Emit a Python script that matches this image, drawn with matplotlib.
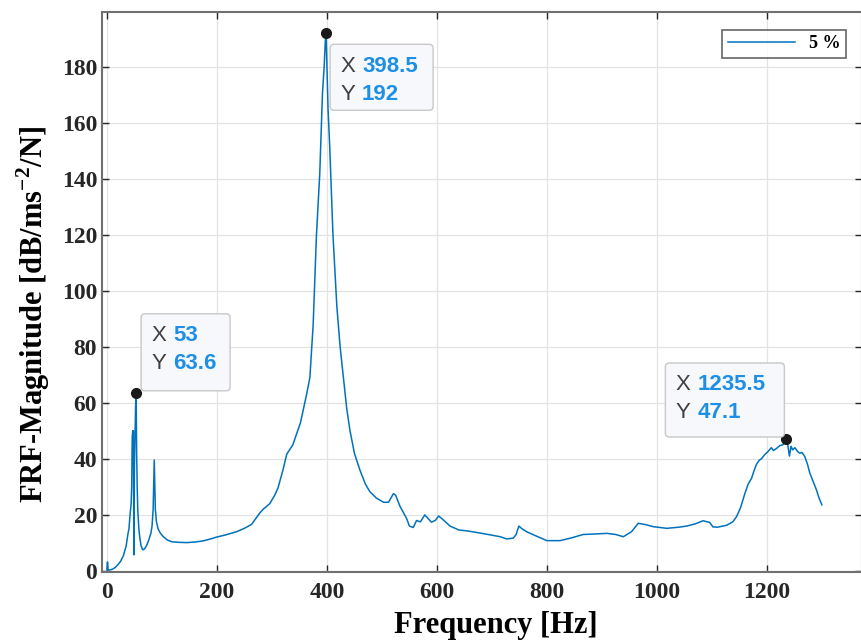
import numpy as np
import matplotlib
matplotlib.use("Agg")
import matplotlib.pyplot as plt
from matplotlib.patches import FancyBboxPatch

plt.rcParams['font.family'] = ['Liberation Serif', 'DejaVu Serif']
plt.rcParams['mathtext.fontset'] = 'custom'
plt.rcParams['mathtext.bf'] = 'Liberation Serif:bold'
plt.rcParams['mathtext.rm'] = 'Liberation Serif'

# FRF magnitude of the 5 % case
freq = [0, 1, 2, 5, 10, 15, 20, 25, 30, 35, 38, 40, 42, 44, 45, 46, 47, 47.5, 48, 49,
        50, 51, 52, 53, 54, 55, 56, 58, 60, 62, 65, 68, 72, 76, 80, 82, 84, 85, 86, 87,
        88, 90, 93, 97, 102, 110, 118, 130, 145, 160, 175, 190, 200, 215, 236, 250, 263, 270, 278, 284,
        290, 296, 305, 311, 320, 327, 333, 338, 345, 352, 357, 363, 369, 375, 381, 387, 392, 395, 397, 398.5,
        400, 402, 405, 411, 418, 424, 430, 436, 442, 450, 460, 470, 478, 490, 503, 512, 521, 525, 533, 540,
        545, 550, 557, 563, 570, 578, 585, 590, 597, 603, 610, 624, 640, 654, 670, 696, 715, 727, 739, 744,
        749, 755, 763, 780, 800, 824, 845, 866, 890, 909, 925, 939, 954, 960, 966, 980, 993, 1018, 1040, 1054,
        1070, 1084, 1096, 1102, 1110, 1127, 1138, 1145, 1152, 1160, 1166, 1172, 1178, 1181, 1186, 1190, 1196, 1202, 1208, 1212,
        1218, 1224, 1229, 1233, 1235.5, 1238, 1241, 1244, 1247, 1251, 1256, 1260, 1264, 1269, 1274, 1278, 1284, 1290, 1295, 1300]
mag = [0.5, 3.2, 0.4, 0.3, 0.6, 1.2, 2.2, 3.5, 5.5, 9, 13, 15, 20, 24, 30, 48, 50, 44, 50, 5.7,
       38, 48, 58, 63.6, 42, 30, 22, 15, 11.5, 9, 7.5, 7.8, 9, 11, 13.5, 16, 22, 30, 39.6, 30,
       22, 17.5, 15, 13.5, 12.3, 11, 10.4, 10.2, 10.1, 10.3, 10.7, 11.5, 12.1, 12.8, 14, 15.2, 16.6, 18.5, 20.7, 22,
       23, 24, 27, 29.6, 36, 41.7, 43.5, 45, 49, 53, 57.6, 63, 69, 88, 120, 142, 171, 180, 189, 192,
       180, 165, 152, 120, 94.6, 80, 69, 58, 50, 42, 36, 31, 28.3, 26, 24.5, 24.5, 27.6, 27, 23, 20.5,
       18.7, 16, 15.5, 18, 17.5, 20, 18.5, 17.4, 18, 19.6, 18.5, 16, 14.6, 14.3, 13.8, 12.9, 12.2, 11.4, 11.7, 13,
       16, 15, 14, 12.5, 10.8, 10.8, 11.8, 13, 13.2, 13.4, 13, 12.2, 14, 15.5, 17, 16.5, 15.8, 15.2, 15.6, 16,
       16.8, 17.9, 17.3, 15.7, 15.6, 16.3, 17.5, 19.4, 22.5, 27.6, 31, 33, 36.5, 38, 39.5, 40, 41.5, 42.6, 44, 43,
       43.8, 44.8, 45, 46, 47.1, 45, 41, 44.5, 43.2, 44, 42.6, 42, 42.3, 40.8, 38, 35, 32, 29, 26, 23.6]

# data tips: (x, y, box offset from marker in px: dx, dy, width, height)
tip_x = [53, 398.5, 1235.5]
tip_y = [63.6, 192, 47.1]
tip_box = [(5, 2, 89, 77), (4, -77, 103, 66), (-121, 2, 119, 74)]

fig = plt.figure(figsize=(8.62, 6.41), dpi=100)
ax = fig.add_axes([102/862, 69/641, 760/862, 560/641])

line, = ax.plot(freq, mag, color='#0072BD', lw=1.1, label='5 %')
ax.plot(tip_x, tip_y, 'o', color='#1a1a1a', ms=7, zorder=5)

ax.set_xlim(-9, 1373)
ax.set_ylim(-0.4, 199.6)
ax.set_xticks(np.arange(0, 1201, 200))
ax.set_yticks(np.arange(0, 181, 20))
ax.grid(True, color='#e3e3e3', lw=0.9)
ax.set_axisbelow(True)
ax.tick_params(direction='in', length=5, width=1, colors='#262626', labelsize=17,
               top=True, right=True)
ax.tick_params(axis='x', pad=7)
for lab in ax.get_xticklabels() + ax.get_yticklabels():
    lab.set_fontweight('bold')
for s in ax.spines.values():
    s.set_color('#707070')
    s.set_linewidth(1.5)

ax.set_xlabel('Frequency [Hz]', fontsize=22, fontweight='bold')
ax.xaxis.set_label_coords(0.518, -0.069)
ax.set_ylabel('FRF-Magnitude [dB/ms$^{\\mathbf{-2}}$/N]', fontsize=22, fontweight='bold')
ax.yaxis.set_label_coords(-0.066, 0.46)

leg = ax.legend(loc='upper right', bbox_to_anchor=(846/862, 611/641), bbox_transform=fig.transFigure,
                borderaxespad=0, fancybox=False, handlelength=3.7, borderpad=0.3,
                prop={'weight': 'bold', 'size': 13})
leg.get_frame().set_edgecolor('#404040')
leg.get_frame().set_linewidth(1.2)

# data tip boxes, drawn in pixel coordinates
fig.canvas.draw()
for x, y, (dx, dy, w, h) in zip(tip_x, tip_y, tip_box):
    px, py = ax.transData.transform((x, y))
    left = px + dx
    bottom = py + dy
    box = FancyBboxPatch((left, bottom), w, h, boxstyle='round,pad=0,rounding_size=4',
                         transform=None, fc='#f7f8fc', ec='#c8c8c8', lw=1, zorder=6)
    fig.patches.append(box)
    vals = ['%g' % x, '%g' % y]
    for k, (name, v) in enumerate(zip(['X', 'Y'], vals)):
        ty = bottom + h - 22 - k * 28
        fig.text(left + 10, ty, name, transform=None, fontsize=16, family='Liberation Sans',
                 color='#404040', va='center', zorder=7)
        fig.text(left + 32, ty, v, transform=None, fontsize=16, family='Liberation Sans',
                 fontweight='bold', color='#1e8fe6', va='center', zorder=7)

fig.savefig('out.png', dpi=100)
